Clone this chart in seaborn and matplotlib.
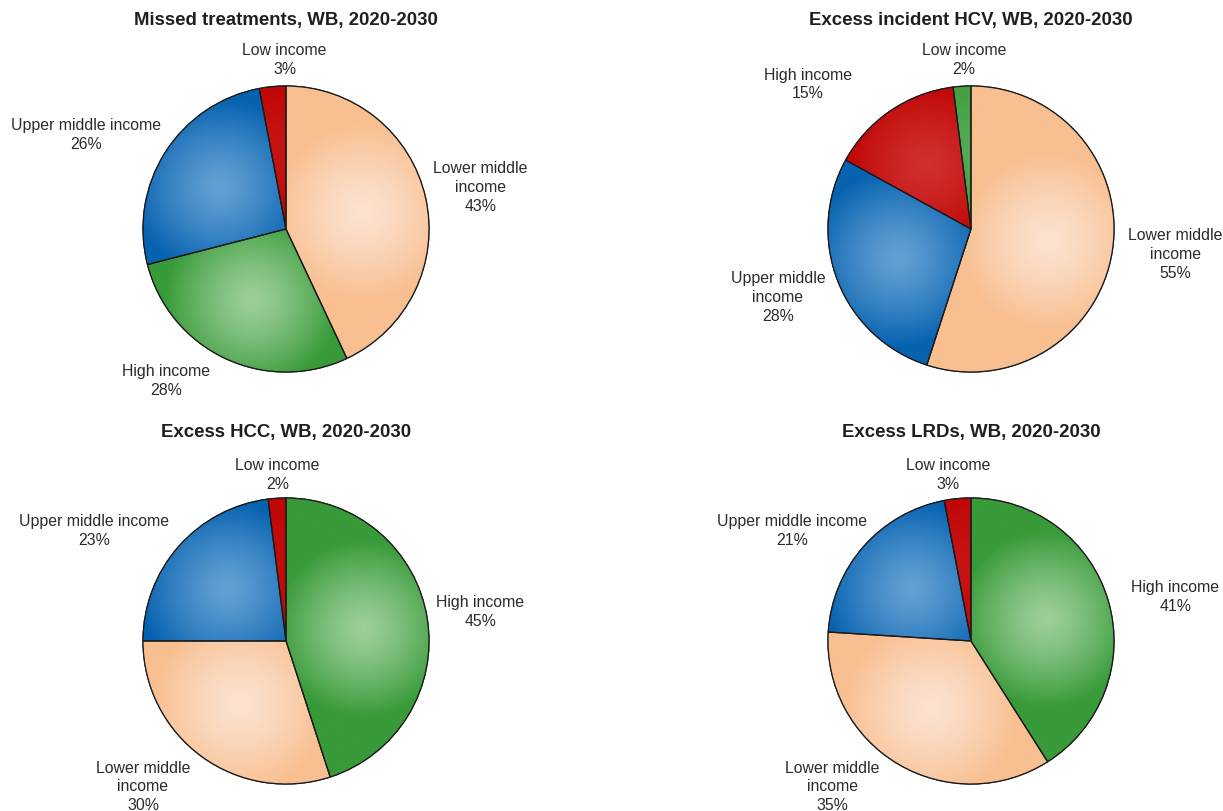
import numpy as np
import matplotlib
matplotlib.use("Agg")
import matplotlib.pyplot as plt
import matplotlib.colors as mcolors
from matplotlib.patches import Wedge
import seaborn as sns

sns.set_style("white")
plt.rcParams['font.family'] = ['Liberation Sans', 'DejaVu Sans']

# ---------------- data ----------------
titles = ["Missed treatments, WB, 2020-2030",
          "Excess incident HCV, WB, 2020-2030",
          "Excess HCC, WB, 2020-2030",
          "Excess LRDs, WB, 2020-2030"]

labels_missed = ["Lower middle\nincome", "High income", "Upper middle income", "Low income"]
values_missed = [43, 28, 26, 3]
colors_missed = ["peach", "green", "blue", "red"]

labels_hcv = ["Lower middle\nincome", "Upper middle\nincome", "High income", "Low income"]
values_hcv = [55, 28, 15, 2]
colors_hcv = ["peach", "blue", "red", "green"]

labels_hcc = ["High income", "Lower middle\nincome", "Upper middle income", "Low income"]
values_hcc = [45, 30, 23, 2]
colors_hcc = ["green", "peach", "blue", "red"]

labels_lrd = ["High income", "Lower middle\nincome", "Upper middle income", "Low income"]
values_lrd = [41, 35, 21, 3]
colors_lrd = ["green", "peach", "blue", "red"]

# dark (edge) and light (centre) tones for gradient fills
palette = {
    "peach": ("#F8BF90", "#FCE2D0"),
    "green": ("#389A38", "#9CCF9A"),
    "blue":  ("#0762B0", "#62A0D4"),
    "red":   ("#BE0000", "#D03030"),
}

# ---------------- layout (label centres, in pie radii, not data) ----------------
label_layout = [
    [(1.36, 0.29), (-0.84, -1.06), (-1.40, 0.66), (-0.01, 1.18)],
    [(1.43, -0.18), (-1.35, -0.48), (-1.14, 1.01), (-0.05, 1.18)],
    [(1.36, 0.20), (-1.00, -1.02), (-1.34, 0.77), (-0.06, 1.16)],
    [(1.43, 0.31), (-0.97, -1.02), (-1.25, 0.77), (-0.16, 1.16)],
]

charts = [
    (titles[0], labels_missed, values_missed, colors_missed),
    (titles[1], labels_hcv, values_hcv, colors_hcv),
    (titles[2], labels_hcc, values_hcc, colors_hcc),
    (titles[3], labels_lrd, values_lrd, colors_lrd),
]

W, H = 1223, 811
fig = plt.figure(figsize=(W / 100, H / 100), dpi=100)
fig.patch.set_facecolor("white")

R = 143.0  # pixels per data unit
centers = [(286, 229), (971, 229), (286, 641), (971, 641)]
XL, YL = 2.2, 1.6

for (title, labels, values, cols), (cx, cy), lay in zip(charts, centers, label_layout):
    wpx, hpx = 2 * XL * R, 2 * YL * R
    rect = [(cx - wpx / 2) / W, 1 - (cy + hpx / 2) / H, wpx / W, hpx / H]
    ax = fig.add_axes(rect)

    dark_cols = [palette[c][0] for c in cols]
    wedges, _ = ax.pie(values, colors=dark_cols, startangle=90, counterclock=False,
                       radius=1, wedgeprops=dict(edgecolor="#1a1a1a", linewidth=0.9))
    ax.set_aspect("equal")
    ax.axis("off")

    # radial gradient fill inside each wedge
    n = 500
    xs = np.linspace(-1, 1, n)
    X, Y = np.meshgrid(xs, xs[::-1])
    for wdg, c in zip(wedges, cols):
        dark = np.array(mcolors.to_rgb(palette[c][0]))
        light = np.array(mcolors.to_rgb(palette[c][1]))
        th = np.deg2rad((wdg.theta1 + wdg.theta2) / 2)
        width = np.deg2rad(wdg.theta2 - wdg.theta1)
        amp = min(1.0, width * 0.55 / 0.25)
        fx, fy = 0.55 * np.cos(th), 0.55 * np.sin(th)
        d = np.sqrt((X - fx) ** 2 + (Y - fy) ** 2)
        t = 1 - (1 - np.clip(d / 0.62, 0, 1) ** 1.3) * amp
        img = light[None, None, :] * (1 - t[..., None]) + dark[None, None, :] * t[..., None]
        im = ax.imshow(img, extent=[-1, 1, -1, 1], zorder=wdg.get_zorder() + 0.1,
                       interpolation="bilinear")
        im.set_clip_path(wdg)
        outline = Wedge((0, 0), 1, wdg.theta1, wdg.theta2, facecolor="none",
                        edgecolor="#1a1a1a", linewidth=0.9, zorder=wdg.get_zorder() + 0.2)
        ax.add_patch(outline)
    ax.set_xlim(-XL, XL)
    ax.set_ylim(-YL, YL)

    # labels outside the pie
    for (lx, ly), lab, v in zip(lay, labels, values):
        ax.text(lx, ly, f"{lab}\n{v}%", ha="center", va="center",
                multialignment="center", fontsize=11.4, color="#2b2b2b",
                linespacing=1.32, clip_on=False)

    ax.text(0, 1.455, title, ha="center", va="center", fontsize=13.4,
            fontweight="bold", color="#1f1f1f", clip_on=False)

fig.savefig("out.png", dpi=100, facecolor="white")
